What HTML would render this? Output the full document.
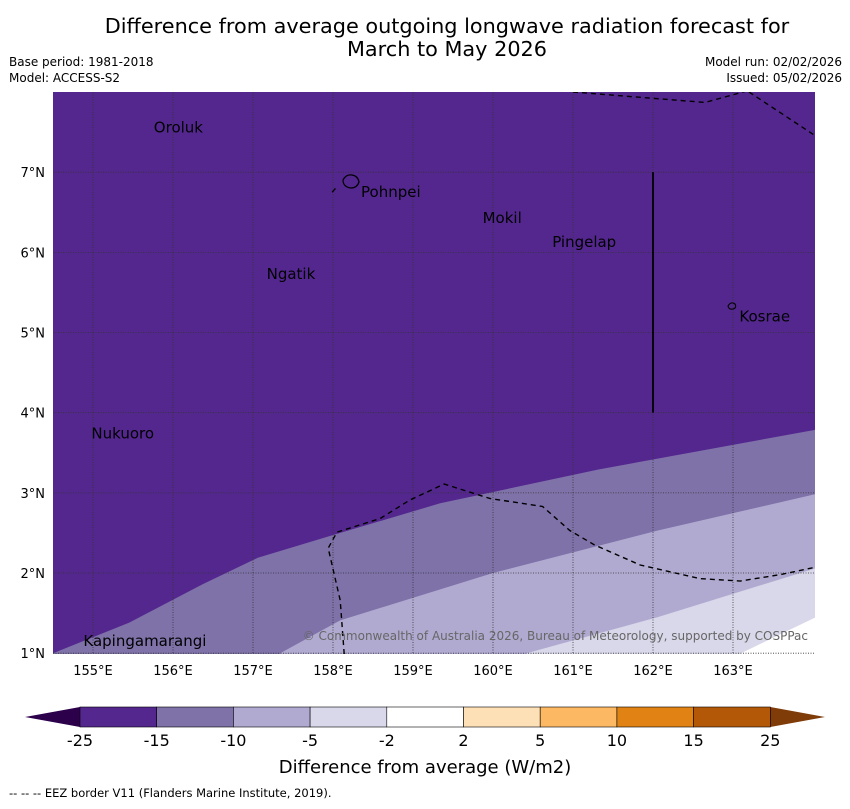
<!DOCTYPE html>
<html><head><meta charset="utf-8"><style>
body{margin:0;background:#fff;font-family:"Liberation Sans","DejaVu Sans",sans-serif}
svg text{font-family:"DejaVu Sans","Liberation Sans",sans-serif}
</style></head><body>
<svg id="c" width="850" height="804" xmlns="http://www.w3.org/2000/svg">
<text x="447" y="33" font-size="20.8" text-anchor="middle">Difference from average outgoing longwave radiation forecast for</text>
<text x="447" y="56" font-size="20.8" text-anchor="middle">March to May 2026</text>
<text x="9" y="66" font-size="12">Base period: 1981-2018</text>
<text x="9" y="82" font-size="12">Model: ACCESS-S2</text>
<text x="842" y="66" font-size="12" text-anchor="end">Model run: 02/02/2026</text>
<text x="842" y="82" font-size="12" text-anchor="end">Issued: 05/02/2026</text>
<defs><clipPath id="mc"><rect x="53" y="92" width="762" height="562"/></clipPath></defs>
<g id="map" clip-path="url(#mc)"></g>
<g id="axes"></g>
<g id="cb"></g>
<text x="425" y="773" font-size="18" text-anchor="middle">Difference from average (W/m2)</text>
<text x="9" y="797" font-size="11.5">--  --  -- EEZ border V11 (Flanders Marine Institute, 2019).</text>
</svg>
<script>
const NS="http://www.w3.org/2000/svg";
const lonTicks=[155,156,157,158,159,160,161,162,163];
const latTicks=[1,2,3,4,5,6,7];
const levels=["-25","-15","-10","-5","-2","2","5","10","15","25"];
const levelColors=["#54278f","#7f72a9","#b1aad0","#d8d8ea","#ffffff","#fee0b6","#fdb863","#e08214","#b35806"];
const bound15=[[154.5,1.0],[155.45,1.38],[156.37,1.86],[157.06,2.19],[158.09,2.5],[159.34,2.87],[161.31,3.29],[164.1,3.8]];
const bound10=[[157.34,1.0],[158.09,1.41],[160.0,2.0],[162.06,2.53],[164.1,3.0]];
const bound5=[[160.42,1.0],[162.06,1.45],[164.1,2.08]];
const bound2=[[163.1,1.0],[164.1,1.48]];
const eezTop1=[[161.0,8.0],[162.65,7.87],[163.2,8.02]];
const eezTop2=[[163.2,8.0],[164.02,7.46]];
const eezBottom=[[158.14,0.99],[158.09,1.66],[157.94,2.31],[158.05,2.51],[158.59,2.68],[158.96,2.91],[159.39,3.11],[159.96,2.93],[160.62,2.83],[160.96,2.53],[161.27,2.35],[161.84,2.1],[162.59,1.93],[163.09,1.9],[163.59,1.98],[164.02,2.07]];
const pohnpeiLine=[[157.99,6.75],[158.05,6.82]];
const places=[["Oroluk",155.76,7.56],["Pohnpei",158.35,6.75],["Mokil",159.87,6.43],["Pingelap",160.74,6.13],["Ngatik",157.17,5.73],["Kosrae",163.08,5.2],["Nukuoro",154.98,3.74],["Kapingamarangi",154.88,1.15]];
const X=lon=>53+(lon-154.5)*80;
const Y=lat=>92+(8-lat)*80.17;
function mk(tag,attrs,parent){const e=document.createElementNS(NS,tag);for(const k in attrs)e.setAttribute(k,attrs[k]);parent.appendChild(e);return e;}
const map=document.getElementById('map');
const bg=mk('rect',{x:53,y:92,width:762,height:562,fill:levelColors[0]},map);


function band(b,color,name){
  let pts=b.map(p=>X(p[0])+','+Y(p[1]));
  pts.push(X(164.2)+','+Y(b[b.length-1][1]));
  pts.push(X(164.2)+','+Y(0.8));
  pts.push(X(b[0][0])+','+Y(0.8));
  const e=mk('polygon',{points:pts.join(' '),fill:color},map);
  
  
}
band(bound15,levelColors[1],'anomaly-band-15-10');
band(bound10,levelColors[2],'anomaly-band-10-5');
band(bound5,levelColors[3],'anomaly-band-5-2');
band(bound2,levelColors[4],'anomaly-band-near-zero');
lonTicks.forEach(l=>{const e=mk('line',{x1:X(l),x2:X(l),y1:92,y2:654,stroke:'#333','stroke-width':0.8,'stroke-dasharray':'1,1.5'},map);

});
latTicks.forEach(l=>{const e=mk('line',{x1:53,x2:815,y1:Y(l),y2:Y(l),stroke:'#333','stroke-width':0.8,'stroke-dasharray':'1,1.5'},map);

});
[eezTop1,eezTop2,eezBottom,pohnpeiLine].forEach(a=>{const e=mk('polyline',{points:a.map(p=>X(p[0])+','+Y(p[1])).join(' '),fill:'none',stroke:'#000','stroke-width':1.4,'stroke-dasharray':'5,4'},map);

});
const vl=mk('line',{x1:X(162),x2:X(162),y1:Y(7),y2:Y(4),stroke:'#000','stroke-width':1.8},map);


const pi=mk('path',{d:'M343,180 q3,-6 9,-5 q6,1 7,7 q-2,6 -8,6 q-8,-1 -8,-8z',fill:'none',stroke:'#000','stroke-width':1.2},map);


const ki=mk('path',{d:'M728,306 q3,-5 7,-2 q2,4 -2,5 q-4,1 -5,-3z',fill:'none',stroke:'#000','stroke-width':1.1},map);


places.forEach(p=>{const t=mk('text',{x:X(p[1]),y:Y(p[2])+5,'font-size':15},map);t.textContent=p[0];

});
const cp=mk('text',{x:808,y:640,'font-size':12,'text-anchor':'end',fill:'#666'},map);cp.textContent='© Commonwealth of Australia 2026, Bureau of Meteorology, supported by COSPPac';


const ax=document.getElementById('axes');
lonTicks.forEach(l=>{const t=mk('text',{x:X(l),y:675,'font-size':13,'text-anchor':'middle'},ax);t.textContent=l+'°E';

});
latTicks.forEach(l=>{const t=mk('text',{x:45,y:Y(l)+5,'font-size':13,'text-anchor':'end'},ax);t.textContent=l+'°N';

});
const cb=document.getElementById('cb');
const cx0=80,cw=76.7,cy=707,ch=20;
const lt=mk('polygon',{points:`25,717 ${cx0},${cy} ${cx0},${cy+ch}`,fill:'#2d004b'},cb);


const rx=cx0+cw*levelColors.length;
const rt=mk('polygon',{points:`825,717 ${rx},${cy} ${rx},${cy+ch}`,fill:'#7f3b08'},cb);


levelColors.forEach((c,i)=>{const r=mk('rect',{x:cx0+i*cw,y:cy,width:cw,height:ch,fill:c,stroke:'#000','stroke-width':0.6},cb);

});
levels.forEach((l,i)=>{const t=mk('text',{x:cx0+i*cw,y:746,'font-size':16,'text-anchor':'middle'},cb);t.textContent=l;

});
</script>
</body></html>
